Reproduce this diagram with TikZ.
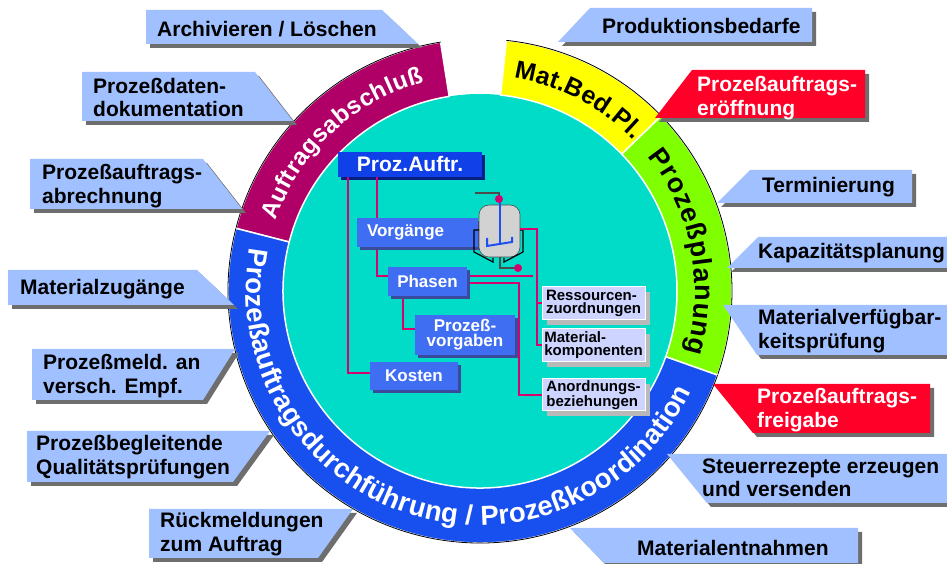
\documentclass[tikz,border=0pt]{standalone}
\usepackage{fontspec}
\setmainfont{Liberation Sans}
\usetikzlibrary{decorations.text,shadows}

\definecolor{ringmag}{RGB}{176,0,104}
\definecolor{ringyel}{RGB}{255,255,0}
\definecolor{ringgrn}{RGB}{128,255,0}
\definecolor{ringblu}{RGB}{24,80,240}
\definecolor{disc}{RGB}{0,220,200}
\definecolor{callblue}{RGB}{160,192,255}
\definecolor{callred}{RGB}{255,0,40}
\definecolor{callshade}{RGB}{110,110,110}
\definecolor{linkmag}{RGB}{214,0,110}
\definecolor{boxdark}{RGB}{16,64,232}
\definecolor{boxmid}{RGB}{64,110,242}
\definecolor{boxlight}{RGB}{204,212,255}
\definecolor{navyshade}{RGB}{10,30,130}
\definecolor{stirblue}{RGB}{30,80,240}

\newcommand{\ringpart}[3]{%
    \fill[#1, draw=white, line width=1.5pt] (#2:252) arc[start angle=#2, end angle=#3, radius=252]
        -- (#3:197) arc[start angle=#3, end angle=#2, radius=197] -- cycle;
    \draw[line width=0.8pt] (#2:252) arc[start angle=#2, end angle=#3, radius=252];}
\newcommand{\abschlussfont}{\bfseries\fontsize{24}{24}\selectfont}
\newcommand{\bedfont}{\bfseries\fontsize{25}{25}\selectfont}
\newcommand{\planfont}{\bfseries\fontsize{27}{27}\selectfont}
\newcommand{\koordfont}{\bfseries\fontsize{27.5}{27.5}\selectfont}

\tikzset{
    callout/.style={fill=callblue, drop shadow={shadow xshift=4pt, shadow yshift=-4pt, fill=callshade, opacity=1}},
    redcallout/.style={callout, fill=callred},
    lbl/.style={anchor=west, inner sep=0pt, align=left, font=\bfseries\fontsize{21}{23.5}\selectfont},
    mainbox/.style={fill=boxdark, text=white, inner sep=0pt, font=\bfseries\fontsize{21}{21}\selectfont,
        drop shadow={shadow xshift=3pt, shadow yshift=-3pt, fill=navyshade, opacity=1}},
    subbox/.style={fill=boxmid, text=white, inner sep=0pt, align=center, font=\bfseries\fontsize{17}{15}\selectfont,
        drop shadow={shadow xshift=3pt, shadow yshift=-3pt, fill=navyshade!80, opacity=1}},
    infobox/.style={fill=boxlight, draw=white, line width=1pt, inner sep=0pt, align=left,
        minimum width=103pt, font=\bfseries\fontsize{15}{13}\selectfont,
        drop shadow={shadow xshift=5pt, shadow yshift=-5pt, fill=gray!55, opacity=1}},
    link/.style={linkmag, line width=2pt},
    pipe/.style={gray!60!black, line width=2.5pt}
}

\begin{document}
\begin{tikzpicture}[x=1pt, y=1pt]
    \useasboundingbox (0,0) rectangle (947,564);
    \fill[white] (0,0) rectangle (947,564);

    \begin{scope}[shift={(480,273)}]
        \fill[disc] (0,0) circle (197);
        \ringpart{ringmag}{99}{165.6}
        \ringpart{ringyel}{44}{84}
        \ringpart{ringgrn}{-19.5}{44}
        \ringpart{ringblu}{165.6}{340.5}
        \path[decorate, decoration={text along path, text align=fit to path, text color=white,
            text={|\abschlussfont|Auftragsabschluß}}]
            (161:216) arc[start angle=161, end angle=105, radius=216];
        \path[decorate, decoration={text along path, text align=fit to path,
            text={|\bedfont|Mat.Bed.Pl.}}]
            (81:215.5) arc[start angle=81, end angle=44.5, radius=215.5];
        \path[decorate, decoration={text along path, text align=fit to path,
            text={|\planfont|Prozeßplanung}}]
            (38.7:215) arc[start angle=38.7, end angle=-16.7, radius=215];
        \path[decorate, decoration={text along path, text align=fit to path, text color=white,
            text={|\koordfont|Prozeßauftragsdurchführung / Prozeßkoordination}}]
            (169.4:234) arc[start angle=169.4, end angle=334.6, radius=234];
    \end{scope}

    % left side
    \fill[callout] (146,554) -- (382,554) -- (418,520) -- (146,520) -- cycle;
    \node[lbl] (archiv) at (157,535) {Archivieren / Löschen};
    \fill[callout] (82,492) -- (255,492) -- (293,443) -- (82,443) -- cycle;
    \node[lbl] (datendoku) at (93,466.5) {Prozeßdaten-\\dokumentation};
    \fill[callout] (30,405) -- (203,405) -- (242,355) -- (30,355) -- cycle;
    \node[lbl] (abrechnung) at (42,378) {Prozeßauftrags-\\abrechnung};
    \fill[callout] (8,294) -- (197,294) -- (234,259) -- (8,259) -- cycle;
    \node[lbl] (zugaenge) at (20,275) {Materialzugänge};
    \fill[callout] (32,215) -- (235,215) -- (203,164) -- (32,164) -- cycle;
    \node[lbl] (meldung) at (43,188) {Prozeßmeld. an\\versch. Empf.};
    \fill[callout] (27,133) -- (270,133) -- (233,82) -- (27,82) -- cycle;
    \node[lbl] (pruefung) at (36,107) {Prozeßbegleitende\\Qualitätsprüfungen};
    \fill[callout] (149,55) -- (353,55) -- (318,6) -- (149,6) -- cycle;
    \node[lbl] (rueckmeldung) at (160,30) {Rückmeldungen\\zum Auftrag};

    % right side
    \fill[callout] (590,556) -- (812,556) -- (812,522) -- (558,522) -- cycle;
    \node[lbl] (bedarfe) at (602,538) {Produktionsbedarfe};
    \fill[redcallout] (692,494) -- (865,494) -- (865,446) -- (655,446) -- cycle;
    \node[lbl, text=white] (eroeffnung) at (697,466) {Prozeßauftrags-\\eröffnung};
    \fill[callout] (750,394) -- (912,394) -- (912,361) -- (717,361) -- cycle;
    \node[lbl] (termin) at (762,377) {Terminierung};
    \fill[callout] (758,327) -- (952,327) -- (952,296) -- (727,296) -- cycle;
    \node[lbl] (kapazitaet) at (758,311) {Kapazitätsplanung};
    \fill[callout] (723,259) -- (952,259) -- (952,209) -- (757,209) -- cycle;
    \node[lbl] (verfueg) at (758,233) {Materialverfügbar-\\keitsprüfung};
    \fill[redcallout] (713,180) -- (930,180) -- (930,131) -- (753,131) -- cycle;
    \node[lbl, text=white] (freigabe) at (757,154) {Prozeßauftrags-\\freigabe};
    \fill[callout] (667,110) -- (952,110) -- (952,61) -- (707,61) -- cycle;
    \node[lbl] (steuerrezept) at (702,86) {Steuerrezepte erzeugen\\und versenden};
    \fill[callout] (570,36) -- (858,36) -- (858,1) -- (604,1) -- cycle;
    \node[lbl] (entnahme) at (637,16) {Materialentnahmen};

    % order structure
    \node[mainbox, minimum width=144pt, minimum height=25pt] (prozauftr) at (410,399.5) {Proz.Auftr.};
    \path (417.5,331.5) node[minimum width=121pt, minimum height=29pt] (vorgaenge) {}
          (427.5,282.5) node[minimum width=79pt, minimum height=29pt] (phasen) {}
          (465,229) node[minimum width=100pt, minimum height=40pt] (vorgaben) {}
          (414,188) node[minimum width=88pt, minimum height=28pt] (kosten) {}
          (593.5,260.5) node[infobox, minimum height=33pt] (ressourcen) {}
          (593.5,218.5) node[infobox, minimum height=33pt] (material) {}
          (593.5,169) node[infobox, minimum height=32pt] (anordnung) {};
    \coordinate (vessel) at (520,335);
    \coordinate (stub) at (533,288);

    \draw[link] ([xshift=10pt]prozauftr.south west) |- ([yshift=3pt]kosten.west);
    \draw[link] ([xshift=39pt]prozauftr.south west) -- ([xshift=20pt]vorgaenge.north west);
    \draw[link] ([xshift=20pt]vorgaenge.south west) |- ([yshift=5pt]phasen.west);
    \draw[link] ([xshift=15pt]phasen.south west) |- ([yshift=6pt]vorgaben.west);
    \draw[link] ([yshift=5.5pt]phasen.east) -- (stub);
    \draw[link] ([yshift=-2pt]phasen.east) -- ++(52,0) |- (anordnung.west);

    \node[subbox, minimum width=121pt, minimum height=29pt, text width=101pt, align=left] at (vorgaenge) {Vorgänge};
    \node[subbox, minimum width=79pt, minimum height=29pt] at (phasen) {Phasen};
    \node[subbox, minimum width=100pt, minimum height=40pt] at (vorgaben) {Prozeß-\\vorgaben};
    \node[subbox, minimum width=88pt, minimum height=28pt] at (kosten) {Kosten};
    \node[infobox, minimum height=33pt] at (ressourcen) {Ressourcen-\\zuordnungen};
    \node[infobox, minimum height=33pt] at (material) {Material-\\komponenten};
    \node[infobox, minimum height=32pt] at (anordnung) {Anordnungs-\\beziehungen};

    % reactor
    \draw[pipe] (475,371) -- (499,371) -- (499,362);
    \draw[pipe] (500,310) -- (500,296) -- (516,296);
    \filldraw[fill=gray!35, draw=gray!60!black, line width=0.6pt, rounded corners=10pt] (479,307) rectangle (520,359);
    \draw[line width=1.2pt] (479,334) -- (474,334) -- (474,312) -- (493,302) -- (493,306);
    \draw[line width=1.2pt] (520,334) -- (523,334) -- (523,312) -- (504,302) -- (504,306);
    \draw[stirblue, line width=2.2pt] (500,364) -- (500,321);
    \draw[stirblue, line width=2pt] (487,326) -- (487,318) -- (512,322) -- (512,327);
    \fill[linkmag] (499,365) circle (4);
    \fill[linkmag] (518,296) circle (4);

    \draw[link] (vessel) -| ([xshift=-5pt]material.west) -- (material.west);
    \draw[link] ([xshift=-5pt]ressourcen.west) -- (ressourcen.west);
\end{tikzpicture}
\end{document}
